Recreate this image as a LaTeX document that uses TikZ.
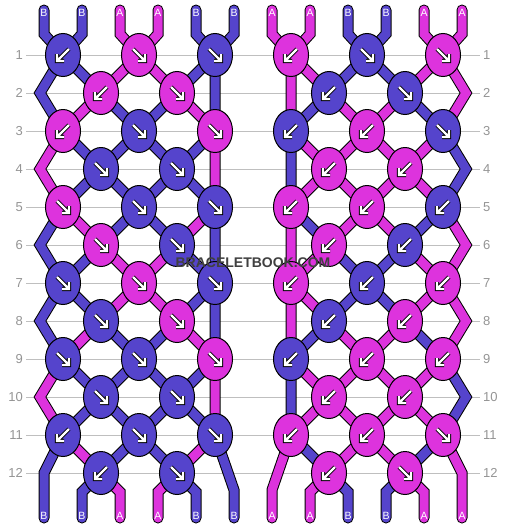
\documentclass[tikz,border=0pt]{standalone}
\usepackage{fontspec}
\setmainfont{Liberation Sans}
\usetikzlibrary{shapes.geometric,backgrounds}
\definecolor{strandB}{HTML}{5544CC}
\definecolor{strandA}{HTML}{DD33DD}
\colorlet{Lx}{strandB}\colorlet{Ly}{strandA}
\colorlet{Rx}{strandA}\colorlet{Ry}{strandB}
\tikzset{
    knot/.style = {ellipse, draw=black, line width=1pt, minimum width=35pt,
        minimum height=43pt, inner sep=0pt},
    strand/.style = {draw=black, line width=1pt, double=#1,
        double distance=9pt, line cap=round},
    rowline/.style = {draw=black!25, line width=1pt},
    rownum/.style = {text=black!42, font=\fontsize{13}{13}\selectfont, inner sep=3pt},
    endlabel/.style = {text=white, font=\fontsize{10.5}{10.5}\selectfont, inner sep=0pt},
    watermark/.style = {text=black!75, font=\bfseries\fontsize{14}{14}\selectfont},
    pics/arrse/.style = {
        code = {
        \draw [black, line width=4.2pt] (-6,-6) -- (5,5) (6,-1) -- (6,6) -- (-1,6);
        \draw [white, line width=2.4pt] (-6,-6) -- (5,5) (6,-1) -- (6,6) -- (-1,6);
        }
    },
    pics/arrsw/.style = {
        code = {
        \draw [black, line width=4.2pt] (6,-6) -- (-5,5) (-6,-1) -- (-6,6) -- (1,6);
        \draw [white, line width=2.4pt] (6,-6) -- (-5,5) (-6,-1) -- (-6,6) -- (1,6);
        }
    }
}

\begin{document}
\begin{tikzpicture}[x=1pt, y=-1pt]
    \useasboundingbox (0,0) rectangle (506,528);

    % row numbers
    \foreach \r in {1,...,12} {
        \node[rownum, anchor=east] (numL\r) at (26,{55+38*(\r-1)}) {\r};
        \node[rownum, anchor=west] (numR\r) at (480,{55+38*(\r-1)}) {\r};
    }

    % knots: colour/arrow, one group per row
    \foreach \P/\ox/\rows in {
        L/0/{{B/sw,A/se,B/se},{A/sw,A/se},{A/sw,B/se,A/se},{B/se,B/se},
             {A/se,B/se,B/se},{A/se,B/se},{B/se,A/se,B/se},{B/se,A/se},
             {B/se,B/se,A/se},{B/se,B/se},{B/sw,B/se,B/se},{B/sw,B/se}},
        R/228/{{A/sw,B/se,A/se},{B/sw,B/se},{B/sw,A/sw,B/se},{A/sw,A/sw},
             {A/sw,A/sw,B/sw},{A/sw,B/sw},{A/sw,B/sw,A/sw},{B/sw,A/sw},
             {B/sw,A/sw,A/sw},{A/sw,A/sw},{A/sw,A/sw,A/se},{A/sw,A/se}}} {
        \foreach \knots [count=\r] in \rows {
            \foreach \c/\d [count=\k] in \knots {
                \pgfmathsetmacro\kx{\ox+63+38*mod(\r+1,2)+76*(\k-1)}
                \pgfmathsetmacro\ky{55+38*(\r-1)}
                \node[knot, fill=strand\c] (\P-\r-\k) at (\kx,\ky) {};
                \pic at (\P-\r-\k) {arr\d};
            }
        }
    }

    % strand ends, bends and edge passes
    \foreach \P/\ox/\exl/\exr/\ybl/\ybr/\letters in {
        L/0/40/215/473/490/{B,B,A,A,B,B},
        R/228/291/466/490/473/{A,A,B,B,A,A}} {
        \foreach \l [count=\p] in \letters {
            \coordinate (\P-t\p) at (\ox+6+38*\p,10);
            \coordinate (\P-u\p) at (\ox+6+38*\p,34);
            \coordinate (\P-v\p) at (\ox+6+38*\p,492);
            \coordinate (\P-w\p) at (\ox+6+38*\p,518);
            \node[endlabel] (\P-top\p) at (\ox+6+38*\p,13) {\l};
            \node[endlabel] (\P-bot\p) at (\ox+6+38*\p,516) {\l};
        }
        \coordinate (\P-v1) at (\ox+44,\ybl);
        \coordinate (\P-v6) at (\ox+234,\ybr);
        \foreach \r in {2,4,...,10} {
            \coordinate (\P-eL\r) at (\exl,{55+38*(\r-1)});
            \coordinate (\P-eR\r) at (\exr,{55+38*(\r-1)});
        }
    }

    \begin{scope}[on background layer]
        \foreach \r in {1,...,12} \draw[rowline] (numL\r) -- (numR\r);
        \foreach \P in {L,R} {
            \foreach \s/\k/\route in {
                1/x/{u1,1-1,2-1,3-2,4-2,5-3,eR6,7-3,8-2,9-2,10-1,11-1,v1,w1},
                2/x/{u2,1-1,eL2,3-1,4-1,5-2,6-2,7-3,eR8,9-3,10-2,11-2,12-1,v2,w2},
                3/y/{u3,1-2,2-2,3-3,eR4,5-3,6-2,7-2,8-1,9-1,eL10,11-1,12-1,v3,w3},
                4/y/{u4,1-2,2-1,3-1,eL4,5-1,6-1,7-2,8-2,9-3,eR10,11-3,12-2,v4,w4},
                5/x/{u5,1-3,eR2,3-3,4-2,5-2,6-1,7-1,eL8,9-1,10-1,11-2,12-2,v5,w5},
                6/x/{u6,1-3,2-2,3-2,4-1,5-1,eL6,7-1,8-1,9-2,10-2,11-3,v6,w6}} {
                \draw[strand=\P\k] (\P-t\s) foreach \n in \route {-- (\P-\n.center)};
            }
        }
    \end{scope}

    \node[watermark] (mark) at (253,263) {BRACELETBOOK.COM};
\end{tikzpicture}
\end{document}
